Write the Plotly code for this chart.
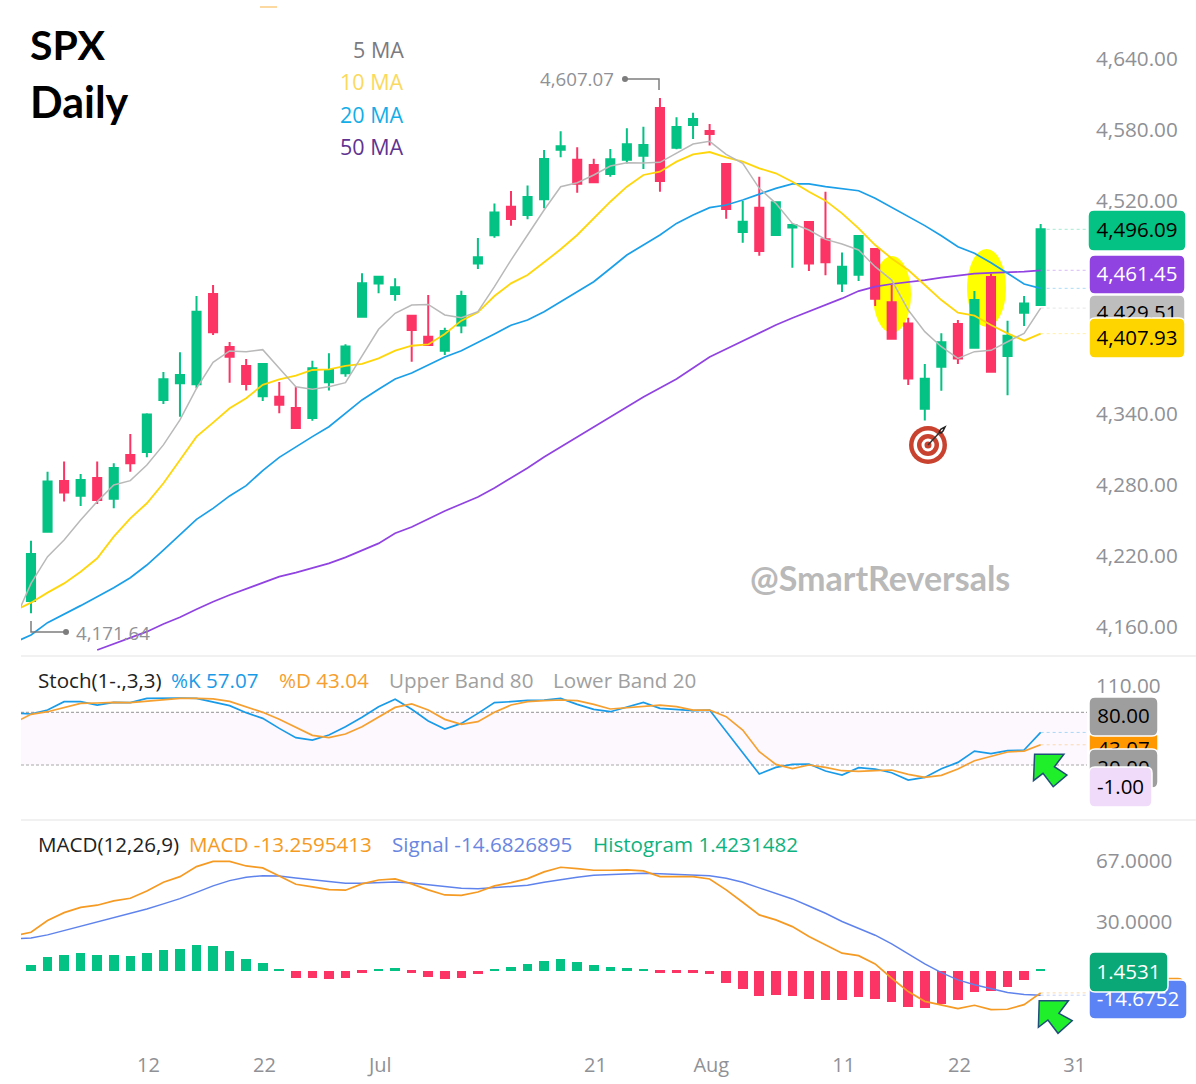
"""SPX daily chart with moving averages, stochastic and MACD panels."""
import plotly.graph_objects as go
from plotly.subplots import make_subplots

W, H = 1196, 1084
FONT = "Open Sans"
TITLE_FONT = "Lato"

# candles, one per trading day
OPEN = [4182.0, 4240.6, 4283.4, 4271.0, 4286.0, 4268.5, 4305.4, 4307.9, 4351.9, 4366.0, 4365.1,
        4441.5, 4396.7, 4380.6, 4355.0, 4354.7, 4345.1, 4336.7, 4366.8, 4374.4, 4422.3, 4450.2,
        4441.5, 4423.1, 4405.3, 4393.5, 4414.9, 4467.3, 4491.0, 4515.2, 4508.2, 4521.4, 4563.4,
        4554.9, 4550.4, 4542.8, 4554.9, 4558.3, 4598.6, 4565.1, 4584.2, 4579.2, 4551.3, 4493.8,
        4514.4, 4491.3, 4497.7, 4502.3, 4487.6, 4450.4, 4457.7, 4479.4, 4434.4, 4416.6, 4344.5,
        4380.0, 4416.1, 4396.1, 4455.8, 4389.0, 4425.6, 4432.1]
HIGH = [4233.0, 4291.3, 4299.8, 4289.3, 4299.8, 4298.4, 4323.1, 4340.6, 4375.5, 4392.2, 4439.8,
        4449.1, 4400.9, 4386.5, 4382.9, 4367.1, 4363.1, 4385.1, 4391.3, 4398.9, 4458.9, 4456.7,
        4454.7, 4423.5, 4440.6, 4412.9, 4444.2, 4488.7, 4518.0, 4528.4, 4533.2, 4563.1, 4578.9,
        4565.4, 4555.8, 4564.0, 4581.4, 4582.8, 4607.07, 4590.7, 4594.6, 4585.1, 4551.3, 4520.0,
        4540.6, 4518.9, 4501.1, 4503.1, 4527.9, 4476.6, 4491.0, 4479.4, 4449.0, 4421.4, 4382.3,
        4408.2, 4419.4, 4443.9, 4458.6, 4418.9, 4439.7, 4500.6]
LOW = [4171.64, 4240.0, 4266.0, 4262.3, 4264.0, 4260.3, 4291.3, 4303.4, 4348.5, 4337.8, 4361.7,
       4406.8, 4366.5, 4359.8, 4351.0, 4340.6, 4327.7, 4334.4, 4359.8, 4371.6, 4421.7, 4442.0,
       4435.8, 4384.2, 4397.5, 4389.8, 4408.2, 4462.5, 4489.0, 4499.2, 4504.5, 4513.8, 4556.9,
       4527.0, 4535.5, 4540.6, 4551.8, 4547.0, 4527.9, 4563.7, 4572.4, 4567.0, 4505.1, 4484.8,
       4473.8, 4490.7, 4463.7, 4460.8, 4457.2, 4443.1, 4452.4, 4431.3, 4403.4, 4364.5, 4334.6,
       4359.7, 4382.3, 4395.8, 4375.2, 4355.8, 4414.4, 4432.1]
CLOSE = [4221.7, 4282.9, 4273.6, 4284.3, 4267.4, 4294.4, 4298.4, 4339.5, 4369.3, 4373.0, 4426.5,
         4409.1, 4388.5, 4365.4, 4382.3, 4347.9, 4328.2, 4378.6, 4377.2, 4397.0, 4450.5, 4456.1,
         4447.1, 4411.0, 4398.3, 4410.1, 4439.7, 4472.4, 4510.4, 4504.8, 4523.4, 4555.5, 4566.2,
         4534.6, 4535.8, 4555.2, 4567.9, 4567.3, 4536.9, 4582.5, 4589.3, 4576.6, 4513.2, 4502.5,
         4477.8, 4518.9, 4499.7, 4467.3, 4468.2, 4464.5, 4490.4, 4437.5, 4403.7, 4370.1, 4369.9,
         4400.6, 4387.0, 4436.3, 4375.8, 4406.2, 4433.5, 4496.09]

# moving averages start one day before the first visible candle
MA5 = [4165.0, 4196.9, 4219.5, 4233.6, 4250.5, 4266.0, 4280.0, 4283.7, 4296.9, 4313.9, 4335.0,
       4361.7, 4383.7, 4393.3, 4392.7, 4394.4, 4378.6, 4363.1, 4360.9, 4363.1, 4366.5, 4388.5,
       4411.6, 4425.1, 4432.1, 4432.6, 4423.7, 4421.4, 4426.5, 4447.6, 4470.1, 4491.3, 4512.4,
       4532.1, 4535.5, 4542.0, 4549.6, 4552.4, 4552.1, 4552.7, 4560.8, 4568.2, 4570.4, 4559.4,
       4551.8, 4530.7, 4518.0, 4501.1, 4495.5, 4487.6, 4483.7, 4478.6, 4464.5, 4453.2, 4427.9,
       4409.6, 4396.9, 4387.0, 4392.7, 4393.8, 4401.1, 4408.2, 4429.51]
MA10 = [4174.0, 4180.6, 4189.1, 4196.9, 4206.8, 4218.1, 4236.4, 4251.9, 4264.6, 4281.5, 4301.2,
        4320.9, 4332.7, 4344.8, 4353.3, 4364.6, 4369.3, 4372.4, 4377.2, 4377.8, 4380.6, 4382.3,
        4387.1, 4393.6, 4397.7, 4398.8, 4407.6, 4418.9, 4425.9, 4439.7, 4450.4, 4457.5, 4468.2,
        4479.2, 4491.3, 4505.4, 4519.4, 4532.1, 4542.0, 4544.8, 4553.3, 4559.4, 4561.4, 4556.9,
        4553.3, 4547.6, 4543.4, 4536.3, 4527.9, 4520.3, 4509.6, 4496.9, 4482.8, 4471.5, 4461.7,
        4449.0, 4436.3, 4425.6, 4423.1, 4415.2, 4408.2, 4402.0, 4407.93]
MA20 = [4147.0, 4153.3, 4163.7, 4170.7, 4178.1, 4185.7, 4193.3, 4201.7, 4212.4, 4225.1, 4238.4,
        4251.0, 4260.3, 4270.8, 4279.5, 4292.2, 4303.4, 4312.4, 4320.9, 4329.3, 4340.6, 4351.9,
        4360.9, 4369.6, 4374.7, 4381.4, 4388.2, 4393.5, 4400.3, 4407.6, 4415.0, 4419.5, 4426.5,
        4435.0, 4443.4, 4451.8, 4463.0, 4474.4, 4482.8, 4491.3, 4501.1, 4508.2, 4514.4, 4516.6,
        4520.9, 4525.9, 4530.7, 4534.4, 4534.4, 4532.1, 4530.4, 4528.7, 4522.3, 4514.6, 4506.8,
        4499.2, 4490.7, 4481.4, 4475.8, 4467.9, 4458.9, 4449.9, 4446.2]
MA50 = [None, None, None, None, None, 4140.6, 4145.7, 4150.5, 4156.1, 4162.6, 4168.2, 4175.0,
        4181.4, 4187.1, 4192.2, 4197.5, 4202.6, 4206.0, 4209.6, 4213.8, 4218.9, 4225.1, 4230.7,
        4239.2, 4244.5, 4251.3, 4258.1, 4264.0, 4269.9, 4277.5, 4286.0, 4294.4, 4303.7, 4312.1,
        4320.6, 4329.0, 4337.5, 4345.9, 4354.4, 4362.0, 4369.6, 4378.9, 4388.2, 4394.9, 4401.7,
        4408.5, 4415.2, 4421.1, 4426.5, 4432.1, 4437.7, 4443.9, 4447.6, 4449.9, 4451.3, 4453.2,
        4455.2, 4456.9, 4458.6, 4459.2, 4459.7, 4460.3, 4461.45]

STOCH_K = [79.2, 78.1, 82.6, 92.1, 92.1, 88.3, 91.3, 91.0, 95.9, 96.3, 96.3, 95.9, 92.1, 87.6, 79.6,
           73.1, 61.7, 51.1, 48.4, 54.1, 63.6, 74.3, 86.4, 94.8, 83.4, 70.1, 61.0, 67.4, 78.8, 91.0,
           92.1, 93.6, 94.0, 95.9, 89.1, 83.4, 80.7, 86.4, 91.3, 84.5, 83.4, 81.9, 82.6, 58.3, 34.0,
           9.7, 17.3, 20.7, 21.1, 13.1, 8.6, 16.9, 15.4, 11.2, 2.9, 5.9, 15.8, 23.0, 35.9, 32.9,
           36.3, 37.1, 57.07]
STOCH_D = [68.2, 77.7, 80.7, 85.6, 90.2, 90.6, 91.3, 91.0, 92.5, 94.8, 95.9, 95.9, 95.2, 92.5, 86.4,
           80.0, 72.0, 62.5, 53.8, 51.1, 55.3, 63.6, 75.0, 85.6, 89.5, 82.6, 72.0, 66.3, 69.3, 80.0,
           88.3, 92.1, 93.3, 94.0, 93.3, 89.1, 83.8, 85.3, 87.2, 88.3, 86.4, 82.6, 82.6, 75.0, 59.8,
           35.2, 20.7, 15.8, 20.0, 17.3, 13.5, 12.8, 13.5, 14.3, 9.3, 5.9, 8.2, 15.4, 24.9, 30.2,
           34.8, 35.9, 43.04]

MACD_LINE = [21.3, 23.5, 30.6, 35.4, 38.6, 39.9, 42.5, 44.1, 48.5, 53.8, 57.2, 63.3, 66.5, 66.5, 63.7,
             62.5, 57.6, 52.6, 51.0, 49.4, 49.0, 52.8, 55.2, 55.8, 52.8, 49.2, 46.1, 45.9, 47.9, 51.6,
             53.6, 56.0, 60.1, 62.9, 62.1, 61.1, 61.1, 61.3, 60.7, 57.2, 57.2, 57.2, 55.8, 49.2, 41.7,
             34.0, 31.0, 26.9, 20.9, 15.8, 10.8, 9.3, 4.3, -4.4, -12.5, -18.4, -20.4, -22.8, -20.8,
             -23.4, -23.2, -20.4, -13.26]
SIGNAL = [19.4, 20.0, 21.9, 24.5, 27.3, 30.0, 32.6, 35.0, 37.6, 40.7, 43.9, 47.7, 51.6, 54.8, 56.8,
          57.8, 57.6, 56.4, 55.2, 54.0, 53.2, 53.2, 53.8, 54.0, 53.4, 52.4, 51.2, 50.2, 49.8, 50.4,
          51.2, 52.0, 53.8, 55.4, 56.8, 58.0, 58.4, 58.9, 59.3, 58.9, 58.4, 58.2, 57.8, 56.2, 53.8,
          50.4, 46.9, 43.7, 39.4, 35.0, 30.0, 25.9, 21.7, 16.4, 10.3, 4.3, -1.0, -5.4, -8.4, -10.9,
          -13.1, -14.3, -14.68]
HIST = [3.6, 8.3, 9.9, 10.9, 9.7, 9.7, 9.3, 10.9, 12.7, 13.1, 15.6, 15.0, 11.9, 7.5, 4.9, 0.8, -4.4,
        -4.4, -4.9, -4.2, -1.0, 1.4, 1.6, -1.0, -3.6, -5.1, -4.4, -1.8, 1.2, 2.6, 4.2, 6.1, 7.5, 5.5,
        3.6, 2.2, 1.8, 1.0, -1.0, -1.0, -1.0, -1.8, -7.1, -11.1, -15.0, -14.6, -15.2, -17.2, -17.6,
        -17.6, -15.6, -16.8, -19.0, -21.6, -22.2, -20.0, -17.6, -12.5, -12.1, -9.5, -5.5, 1.45]

PRICE_TICKS = [4160, 4220, 4280, 4340, 4400, 4460, 4520, 4580, 4640]
DAY_TICKS = [7.1, 14.1, 21.1, 34.1, 41.1, 49.1, 56.1, 63.05]
DAY_LABELS = ["12", "22", "Jul", "21", "Aug", "11", "22", "31"]

GREEN, RED = "#03c283", "#fc3465"
GRAY_TXT = "#8f9196"

DAYS = list(range(len(OPEN)))
MA_DAYS = list(range(-1, len(OPEN)))
X_RANGE = [-0.604, 63.8]


def px(x):
    return x / W


def py(y):
    return 1 - y / H


def label_box(x0, y0, x1, y1, fill, text=None, color="black", r=6):
    # rounded tag drawn as a shape so the next tag can cover its text
    path = (f"M {px(x0 + r)} {py(y0)} L {px(x1 - r)} {py(y0)} Q {px(x1)} {py(y0)} {px(x1)} {py(y0 + r)} "
            f"L {px(x1)} {py(y1 - r)} Q {px(x1)} {py(y1)} {px(x1 - r)} {py(y1)} "
            f"L {px(x0 + r)} {py(y1)} Q {px(x0)} {py(y1)} {px(x0)} {py(y1 - r)} "
            f"L {px(x0)} {py(y0 + r)} Q {px(x0)} {py(y0)} {px(x0 + r)} {py(y0)} Z")
    shape = dict(type="path", path=path, xref="paper", yref="paper", fillcolor=fill,
                 line=dict(color="white", width=1.5), layer="above")
    if text:
        shape["label"] = dict(text=text, textposition="middle center",
                              font=dict(family=FONT, size=20.5, color=color))
    return shape


def polygon(points, fill, edge):
    path = "M " + " L ".join(f"{px(x)} {py(y)}" for x, y in points) + " Z"
    return dict(type="path", path=path, xref="paper", yref="paper", fillcolor=fill,
                line=dict(color=edge, width=1.5), layer="above")


def disc(cx, cy, r, fill):
    return dict(type="circle", xref="paper", yref="paper", x0=px(cx - r), x1=px(cx + r),
                y0=py(cy + r), y1=py(cy - r), fillcolor=fill, line=dict(width=0), layer="above")


def polyline(points, color, width=1.5):
    path = "M " + " L ".join(f"{px(x)} {py(y)}" for x, y in points)
    return dict(type="path", path=path, xref="paper", yref="paper",
                line=dict(color=color, width=width), layer="above")


def note(text, x, y, color, size=20, anchor="left", family=FONT):
    return dict(text=text, x=px(x), y=py(y), xref="paper", yref="paper", showarrow=False,
                xanchor=anchor, yanchor="middle", align=anchor, borderpad=0,
                font=dict(family=family, size=size, color=color))


fig = make_subplots(rows=3, cols=1)

fig.add_trace(go.Candlestick(x=DAYS, open=OPEN, high=HIGH, low=LOW, close=CLOSE,
                             increasing=dict(line=dict(color=GREEN, width=2), fillcolor=GREEN),
                             decreasing=dict(line=dict(color=RED, width=2), fillcolor=RED),
                             whiskerwidth=0), row=1, col=1)
fig.add_scatter(x=MA_DAYS, y=MA50, mode="lines", line=dict(color="#9043e0", width=1.7), row=1, col=1)
fig.add_scatter(x=MA_DAYS, y=MA20, mode="lines", line=dict(color="#1a9fe8", width=1.7), row=1, col=1)
fig.add_scatter(x=MA_DAYS, y=MA10, mode="lines", line=dict(color="#ffd60a", width=1.8), row=1, col=1)
fig.add_scatter(x=MA_DAYS, y=MA5, mode="lines", line=dict(color="#b9b9b9", width=1.5), row=1, col=1)

fig.add_scatter(x=MA_DAYS, y=STOCH_K, mode="lines", line=dict(color="#1a9be8", width=1.7), row=2, col=1)
fig.add_scatter(x=MA_DAYS, y=STOCH_D, mode="lines", line=dict(color="#f5a030", width=1.7), row=2, col=1)

fig.add_bar(x=DAYS, y=HIST, width=0.58, marker_line_width=0,
            marker_color=[GREEN if v >= 0 else RED for v in HIST], row=3, col=1)
fig.add_scatter(x=MA_DAYS, y=SIGNAL, mode="lines", line=dict(color="#5f83ec", width=1.5), row=3, col=1)
fig.add_scatter(x=MA_DAYS, y=MACD_LINE, mode="lines", line=dict(color="#f59a23", width=1.7), row=3, col=1)

shapes = [
    # highlight ellipses sit behind the candles
    dict(type="circle", xref="paper", yref="paper", x0=px(873), x1=px(911), y0=py(333), y1=py(256),
         fillcolor="#ffff00", line=dict(width=0), layer="below"),
    dict(type="circle", xref="paper", yref="paper", x0=px(967), x1=px(1006), y0=py(327), y1=py(249),
         fillcolor="#ffff00", line=dict(width=0), layer="below"),
    # stochastic band
    dict(type="rect", xref="paper", yref="y2", x0=px(21), x1=px(1087), y0=20, y1=80,
         fillcolor="#fdf8fe", line=dict(width=0), layer="below"),
    dict(type="line", xref="paper", yref="y2", x0=px(21), x1=px(1087), y0=80, y1=80,
         line=dict(color="#a8a8a8", width=1.2, dash="3px,2px"), layer="below"),
    dict(type="line", xref="paper", yref="y2", x0=px(21), x1=px(1087), y0=20, y1=20,
         line=dict(color="#a8a8a8", width=1.2, dash="3px,2px"), layer="below"),
    # panel separators
    dict(type="line", xref="paper", yref="paper", x0=px(21), x1=1, y0=py(656), y1=py(656),
         line=dict(color="#ededed", width=1.5)),
    dict(type="line", xref="paper", yref="paper", x0=px(21), x1=1, y0=py(820), y1=py(820),
         line=dict(color="#ededed", width=1.5)),
    # leftover mark of the cropped toolbar at the top edge
    dict(type="rect", xref="paper", yref="paper", x0=px(260), x1=px(277), y0=py(8), y1=py(6),
         fillcolor="#fbd9a0", line=dict(width=0)),
]

# faint guides from the last values to their tags
guides = [("y", CLOSE[-1], GREEN), ("y", MA50[-1], "#9043e0"), ("y", MA20[-1], "#1a9fe8"),
          ("y", MA5[-1], "#b9b9b9"), ("y", MA10[-1], "#ffd60a"),
          ("y2", STOCH_K[-1], "#1a9be8"), ("y2", STOCH_D[-1], "#f5a030"),
          ("y3", SIGNAL[-1], "#5f83ec"), ("y3", MACD_LINE[-1], "#f59a23")]
for ref, val, col in guides:
    shapes.append(dict(type="line", xref="x", yref=ref, x0=61, x1=X_RANGE[1], y0=val, y1=val, opacity=0.35,
                       line=dict(color=col, width=1, dash="dot"), layer="below"))

# high / low callouts
shapes += [polyline([(625, 79), (659, 79), (659, 90)], "#7d7d7d"),
           disc(625, 79, 3, "#7d7d7d"),
           polyline([(66, 632), (31, 632), (31, 621)], "#7d7d7d"),
           disc(66, 632, 3, "#7d7d7d")]

# target icon
shapes += [disc(928, 445, 19, "#c8422f"), disc(928, 445, 14.5, "white"), disc(928, 445, 11, "#c8422f"),
           disc(928, 445, 6.5, "white"), disc(928, 445, 3.5, "#c8422f"),
           polyline([(928, 445), (940, 432)], "#333333", 1.5),
           polyline([(939, 432), (941, 429), (945, 427), (943, 431), (941, 433), (939, 432)], "#222222", 1.5)]

# green arrows
shapes += [polygon([(1034.6, 754.3), (1063.9, 754.3), (1054.4, 766.7), (1066.9, 775), (1053.2, 786.7),
                    (1043, 773.3), (1033.5, 780.7)], "#1fee2a", "#1f4e79"),
           polygon([(1039.2, 1000.7), (1068.4, 1000.7), (1058.9, 1013.3), (1072.2, 1020.7), (1058, 1033.3),
                    (1047.9, 1020), (1038.4, 1027.3)], "#1fee2a", "#1f4e79")]

# last value tags, later ones cover earlier ones
shapes += [label_box(1088, 210, 1186, 251, GREEN, "4,496.09"),
           label_box(1089, 255, 1185, 294, "#9043e0", "4,461.45", "white"),
           label_box(1089, 295, 1185, 332, "#bdbdbd", "4,429.51"),
           label_box(1089, 318, 1185, 358, "#ffd500", "4,407.93"),
           label_box(1089, 730, 1158, 768, "#ff9800", "43.07"),
           label_box(1089, 697, 1158, 736, "#9e9e9e", "80.00"),
           label_box(1089, 749, 1158, 788, "#9e9e9e", "20.00"),
           label_box(1089, 767, 1152, 807, "#f0dcfa", "-1.00"),
           label_box(1089, 977, 1184, 1016, "#f59a23"),
           label_box(1089, 980, 1187, 1019, "#5b83f5", "-14.6752", "white"),
           label_box(1089, 952, 1168, 992, "#0aa876", "1.4531", "white")]

annotations = [
    note("<b>SPX</b>", 29, 44, "black", 41, family=TITLE_FONT),
    note("<b>Daily</b>", 29, 102, "black", 43, family=TITLE_FONT),
    note("5 MA", 405, 49, "#7a7a80", 21.5, "right"),
    note("10 MA", 405, 81, "#fbd95f", 21.5, "right"),
    note("20 MA", 405, 114, "#13aee8", 21.5, "right"),
    note("50 MA", 405, 146, "#5f3391", 21.5, "right"),
    note("4,607.07", 539, 79, GRAY_TXT, 18.7),
    note("4,171.64", 75, 632, GRAY_TXT, 18.7),
    note("<b>@SmartReversals</b>", 749, 577, "#b9b9b9", 34, family=TITLE_FONT),
    note("Stoch(1-.,3,3)", 37, 680, "#222222", 20.6),
    note("%K 57.07", 170, 680, "#1a9be8", 20.6),
    note("%D 43.04", 278, 680, "#f5a030", 20.6),
    note("Upper Band 80", 388, 680, "#a0a0a0", 20.6),
    note("Lower Band 20", 552, 680, "#a0a0a0", 20.6),
    note("MACD(12,26,9)", 37, 844, "#222222", 20.6),
    note("MACD -13.2595413", 188, 844, "#f59a23", 20.6),
    note("Signal -14.6826895", 391, 844, "#6a86e0", 20.6),
    note("Histogram 1.4231482", 592, 844, "#0db27e", 20.6),
]

fig.update_layout(width=W, height=H, margin=dict(l=0, r=0, t=0, b=0), showlegend=False,
                  paper_bgcolor="white", plot_bgcolor="rgba(0,0,0,0)", bargap=0, boxgap=0.3,
                  shapes=shapes, annotations=annotations,
                  font=dict(family=FONT, color=GRAY_TXT))

x_dom = [px(21), px(1087)]
fig.update_xaxes(domain=x_dom, range=X_RANGE, showgrid=False, zeroline=False, showline=False,
                 showticklabels=False, ticks="", rangeslider_visible=False)
fig.update_xaxes(row=3, col=1, showticklabels=True, tickvals=DAY_TICKS, ticktext=DAY_LABELS,
                 tickfont=dict(family=FONT, size=20, color=GRAY_TXT), ticklabelstandoff=3)

axis_style = dict(side="right", showgrid=False, zeroline=False, showline=False, ticks="",
                  ticklabelstandoff=8, tickfont=dict(family=FONT, size=20.7, color=GRAY_TXT))
fig.update_yaxes(row=1, col=1, domain=[py(655), py(0)], range=[4136.38, 4689.86],
                 tickvals=PRICE_TICKS, tickformat=",.2f", **axis_style)
fig.update_yaxes(row=2, col=1, domain=[py(819), py(657)], range=[-41.5, 143],
                 tickvals=[110], tickformat=".2f", **axis_style)
fig.update_yaxes(row=3, col=1, domain=[py(1048), py(821)], range=[-46.7, 90.96],
                 tickvals=[67, 30], tickformat=".4f", **axis_style)

# the page must start at the very corner of the window
fig.write_html("out.html", config={"displayModeBar": False},
               post_script="document.body.style.margin = '0';")
